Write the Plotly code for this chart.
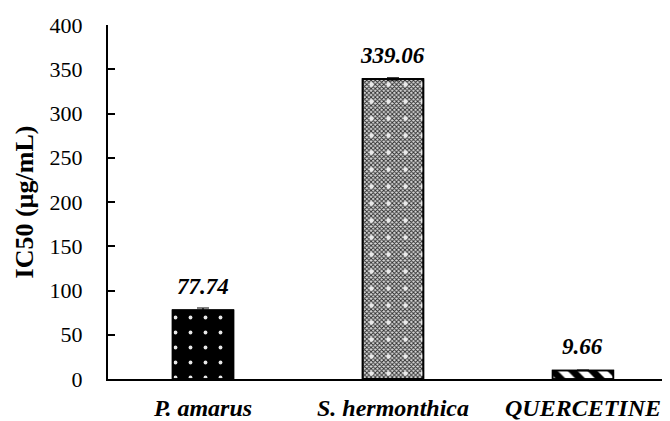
import plotly.graph_objects as go

categories = ["P. amarus", "S. hermonthica", "QUERCETINE"]
values = [77.74, 339.06, 9.66]
errors = [2.5, 1.2, 0.3]
value_labels = ["77.74", "339.06", "9.66"]
y_ticks = [0, 50, 100, 150, 200, 250, 300, 350, 400]

FONT = "Liberation Serif, Times New Roman, serif"

# base fills
base_patterns = [
    dict(shape="", fgcolor="black", bgcolor="black"),
    dict(shape="x", fgcolor="#2a2a2a", bgcolor="#d8d8d8", size=3, solidity=0.5, fillmode="replace"),
    dict(shape="\\", fgcolor="black", bgcolor="white", size=14, solidity=0.5, fillmode="replace"),
]
base_colors = ["black", "#8a8a8a", "white"]
dot_overlay = [True, True, False]
dot_size = [15, 17, 0]

fig = go.Figure()
for i, v in enumerate(values):
    fig.add_trace(go.Bar(
        x=[i], y=[v], width=0.32,
        marker=dict(color=base_colors[i], pattern=base_patterns[i],
                    line=dict(color="black", width=1.5)),
        showlegend=False, hoverinfo="skip",
    ))
    if dot_overlay[i]:
        fig.add_trace(go.Bar(
            x=[i], y=[v], width=0.32,
            marker=dict(color="rgba(0,0,0,0)",
                        pattern=dict(shape=".", fgcolor="#e8e8e8", bgcolor="rgba(0,0,0,0)",
                                     size=dot_size[i], solidity=0.05, fillmode="replace"),
                        line=dict(color="black", width=1.5)),
            showlegend=False, hoverinfo="skip",
        ))
    fig.add_trace(go.Bar(
        x=[i], y=[v], width=0.32,
        marker=dict(color="rgba(0,0,0,0)", line=dict(color="black", width=1.5)),
        error_y=dict(type="data", array=[errors[i]], color="black", thickness=1.2, width=6),
        showlegend=False,
    ))
    fig.add_annotation(x=i, y=v, text="<b><i>%s</i></b>" % value_labels[i],
                       showarrow=False, yanchor="bottom", yshift=9,
                       font=dict(family=FONT, size=23, color="black"))

# page body has an 8px margin: compensate so the plot lands at the reference position
fig.update_layout(
    width=662, height=413,
    margin=dict(l=100, r=0, t=17, b=40),
    plot_bgcolor="white", paper_bgcolor="white",
    font=dict(family=FONT, color="black"),
    barmode="overlay",
)
fig.update_xaxes(
    range=[-0.5, 2.458],
    tickvals=[0, 1, 2],
    ticktext=["<b><i>%s</i></b>" % c for c in categories],
    tickfont=dict(family=FONT, size=24, color="black"),
    showline=True, linecolor="black", linewidth=2,
    ticks="", showgrid=False, zeroline=False,
    ticklabelstandoff=6,
)
fig.update_yaxes(
    range=[0, 400],
    tickvals=y_ticks,
    tickfont=dict(family=FONT, size=22, color="black"),
    showline=True, linecolor="black", linewidth=2,
    ticks="inside", ticklen=7, tickwidth=1.5, tickcolor="black",
    showgrid=False, zeroline=False,
    ticklabelstandoff=19,
    title=dict(text="<b>IC50 (µg/mL)</b>", font=dict(family=FONT, size=26, color="black"), standoff=8),
)

fig.write_html("out.html")
